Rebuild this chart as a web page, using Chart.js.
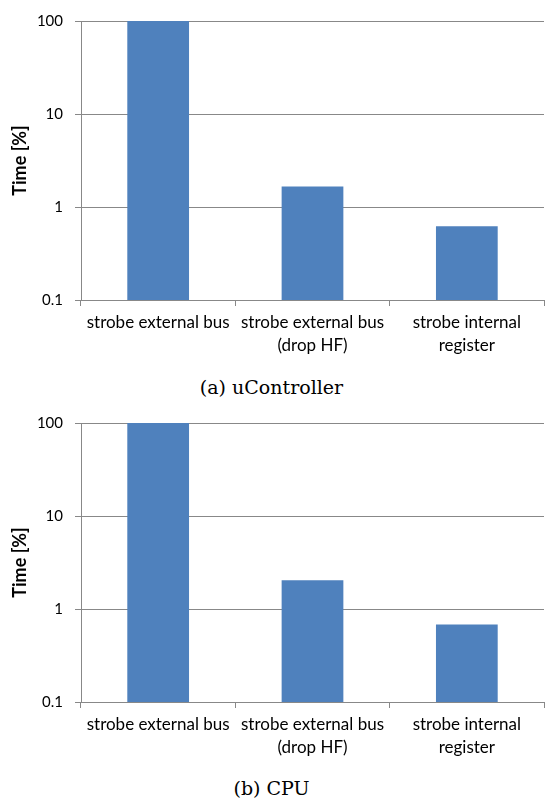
<!DOCTYPE html>
<html>
<head>
<meta charset="utf-8">
<script src="https://cdn.jsdelivr.net/npm/chart.js@4.4.1/dist/chart.umd.min.js"></script>
<style>
  html, body { margin: 0; padding: 0; background: #fff; }
  body { width: 553px; height: 801px; position: relative; overflow: hidden; }
  .box { position: absolute; left: 0; width: 553px; height: 360px; }
  .cap { position: absolute; left: 0; width: 543px; text-align: center;
         font-family: "DejaVu Serif", "Liberation Serif", serif; font-size: 19px; color: #000; line-height: 22px; }
</style>
</head>
<body>
<div class="box" style="top:0px"><canvas id="c1"></canvas></div>
<div class="cap" style="top:376px">(a) uController</div>
<div class="box" style="top:402px"><canvas id="c2"></canvas></div>
<div class="cap" style="top:777px">(b) CPU</div>
<script>
const categories = [
  ["strobe external bus"],
  ["strobe external bus", "(drop HF)"],
  ["strobe internal", "register"]
];
const uControllerValues = [100, 1.66, 0.62];
const cpuValues = [100, 2.04, 0.68];
const yTicks = [0.1, 1, 10, 100];
const yTickLabels = ["0.1", "1", "10", "100"];
const yTitle = "Time [%]";

const FONT = "Lato, 'Open Sans', sans-serif";
const GRID = "#888888";

function makeChart(id, values) {
  return new Chart(document.getElementById(id), {
    type: 'bar',
    data: {
      labels: categories,
      datasets: [{
        data: values,
        backgroundColor: "#4F81BD",
        borderWidth: 0,
        barPercentage: 0.4,
        categoryPercentage: 1.0
      }]
    },
    options: {
      responsive: true,
      maintainAspectRatio: false,
      animation: false,
      events: [],
      layout: { padding: { top: 15, left: 0, right: 9, bottom: 0 } },
      plugins: { legend: { display: false }, tooltip: { enabled: false } },
      scales: {
        x: {
          type: 'category',
          offset: true,
          grid: { offset: true, drawOnChartArea: false, drawTicks: true, tickLength: 6, color: GRID, lineWidth: 1 },
          border: { color: GRID, width: 1 },
          ticks: { color: "#000", font: { family: FONT, size: 17, lineHeight: 1.35 }, padding: 5, maxRotation: 0, autoSkip: false },
          afterFit: s => { s.height = 60; }
        },
        y: {
          type: 'logarithmic',
          min: 0.1,
          max: 100,
          afterBuildTicks: s => { s.ticks = yTicks.map(v => ({ value: v })); },
          grid: { color: GRID, lineWidth: 1, drawTicks: true, tickLength: 6 },
          border: { color: GRID, width: 1 },
          ticks: {
            color: "#000",
            font: { family: FONT, size: 15 },
            padding: 12,
            callback: (v) => { const i = yTicks.indexOf(v); return i >= 0 ? yTickLabels[i] : ''; }
          },
          title: { display: true, text: yTitle, color: "#000", font: { family: FONT, size: 18, weight: 'bold', lineHeight: 1.2 }, padding: { top: 9, bottom: 0 } },
          afterFit: s => { s.width = 81; }
        }
      }
    }
  });
}
makeChart('c1', uControllerValues);
makeChart('c2', cpuValues);
</script>
</body>
</html>
